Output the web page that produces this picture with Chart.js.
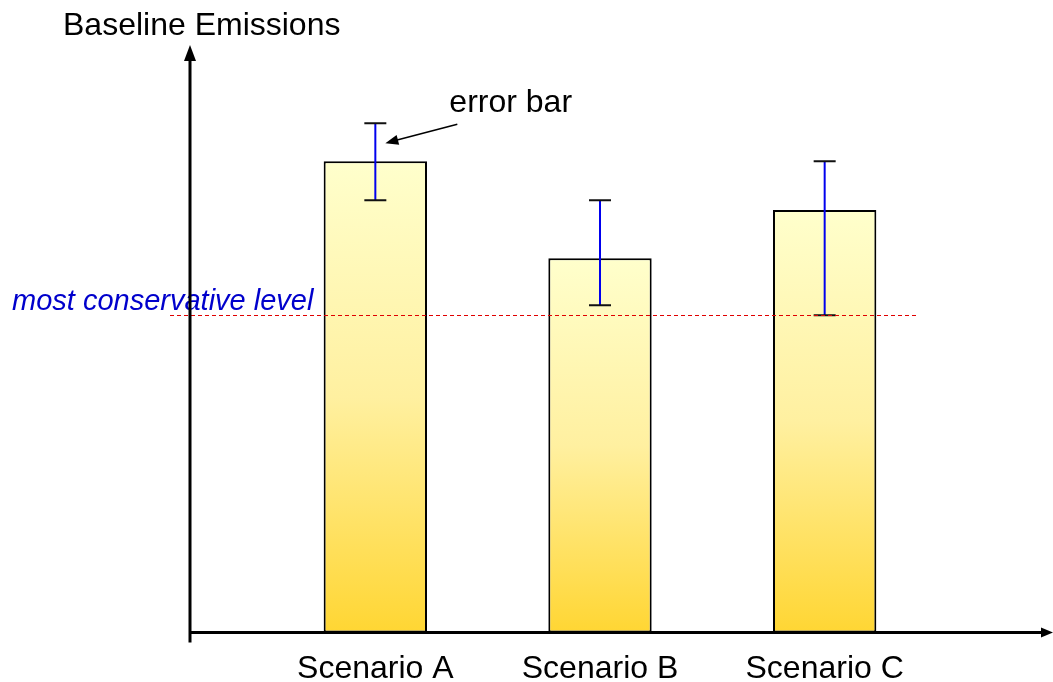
<!DOCTYPE html>
<html>
<head>
<meta charset="utf-8">
<script src="https://cdn.jsdelivr.net/npm/chart.js@4.4.1/dist/chart.umd.min.js"></script>
<style>
    html, body { margin: 0; padding: 0; background: #fff; }
</style>
</head>
<body>
<canvas id="chart" width="1053" height="682"></canvas>
<script>
// chart values (arbitrary units 0-100)
const categories = ["Scenario A", "Scenario B", "Scenario C"];
const emissions = [80.2, 63.7, 71.9];
const errorLow = [73.6, 55.7, 54.0];
const errorHigh = [86.7, 73.6, 80.2];
const conservativeLevel = 54.0;
const yRange = [0, 100];

const FONT = '"Liberation Sans", Arial, sans-serif';

// draw a filled arrowhead with its tip at (x, y), pointing along angle
function arrowHead(ctx, x, y, angle, len, half) {
    ctx.save();
    ctx.translate(x, y);
    ctx.rotate(angle);
    ctx.beginPath();
    ctx.moveTo(0, 0);
    ctx.lineTo(-len, -half);
    ctx.lineTo(-len, half);
    ctx.closePath();
    ctx.fill();
    ctx.restore();
}

const decorations = {
    id: "decorations",
    afterDatasetsDraw(chart) {
        const { ctx, chartArea: a, scales: { y } } = chart;
        const meta = chart.getDatasetMeta(0);
        const axisX = a.left - 73;

        ctx.save();

        // error bars
        meta.data.forEach((bar, i) => {
            const yl = y.getPixelForValue(errorLow[i]);
            const yh = y.getPixelForValue(errorHigh[i]);
            ctx.strokeStyle = "#0000EE";
            ctx.lineWidth = 2;
            ctx.beginPath();
            ctx.moveTo(bar.x, yl);
            ctx.lineTo(bar.x, yh);
            ctx.stroke();
            ctx.strokeStyle = "#111";
            ctx.beginPath();
            ctx.moveTo(bar.x - 11, yl);
            ctx.lineTo(bar.x + 11, yl);
            ctx.moveTo(bar.x - 11, yh);
            ctx.lineTo(bar.x + 11, yh);
            ctx.stroke();
        });

        // most conservative level (dashed)
        const ly = Math.round(y.getPixelForValue(conservativeLevel)) + 0.5;
        ctx.strokeStyle = "#E00000";
        ctx.lineWidth = 1;
        ctx.setLineDash([4, 3]);
        ctx.beginPath();
        ctx.moveTo(axisX - 20, ly);
        ctx.lineTo(a.right - 19, ly);
        ctx.stroke();
        ctx.setLineDash([]);

        ctx.fillStyle = "#0000CC";
        ctx.font = "italic 29px " + FONT;
        ctx.textBaseline = "alphabetic";
        ctx.textAlign = "left";
        ctx.fillText("most conservative level", 12, ly - 6);

        // axes with arrows
        ctx.strokeStyle = "#000";
        ctx.fillStyle = "#000";
        ctx.lineWidth = 3;
        ctx.beginPath();
        ctx.moveTo(axisX, a.bottom + 10);
        ctx.lineTo(axisX, a.top + 14);
        ctx.moveTo(axisX - 1.5, a.bottom);
        ctx.lineTo(a.right + 104, a.bottom);
        ctx.stroke();
        arrowHead(ctx, axisX, a.top, -Math.PI / 2, 16, 6);
        arrowHead(ctx, a.right + 116, a.bottom, 0, 12, 5);

        // y axis title
        ctx.font = "32px " + FONT;
        ctx.fillText("Baseline Emissions", axisX - 127, 35);

        // error bar annotation
        const first = meta.data[0];
        const tipX = first.x + 10, tipY = y.getPixelForValue(errorHigh[0]) + 20;
        const tailX = tipX + 72, tailY = tipY - 19;
        ctx.lineWidth = 1.5;
        ctx.beginPath();
        ctx.moveTo(tailX, tailY);
        ctx.lineTo(tipX + 6, tipY - 1.6);
        ctx.stroke();
        arrowHead(ctx, tipX, tipY, Math.atan2(tipY - tailY, tipX - tailX), 13, 5);
        ctx.fillText("error bar", tailX - 8, 112);

        ctx.restore();
    }
};

new Chart(document.getElementById("chart"), {
    type: "bar",
    data: {
        labels: categories,
        datasets: [{
            data: emissions,
            borderColor: "#000",
            borderWidth: 2,
            borderSkipped: false,
            barPercentage: 1,
            categoryPercentage: 0.46,
            backgroundColor: (c) => {
                const chart = c.chart;
                const area = chart.chartArea;
                if (!area || c.type !== "data") return "#FFEB80";
                const top = chart.scales.y.getPixelForValue(c.raw);
                const g = chart.ctx.createLinearGradient(0, top, 0, area.bottom);
                g.addColorStop(0, "#FFFFCC");
                g.addColorStop(0.5, "#FFF0A0");
                g.addColorStop(1, "#FFD633");
                return g;
            }
        }]
    },
    options: {
        responsive: false,
        animation: false,
        layout: { padding: { left: 263, right: 116, top: 45, bottom: -23 } },
        plugins: { legend: { display: false }, tooltip: { enabled: false } },
        scales: {
            y: { display: false, min: yRange[0], max: yRange[1] },
            x: {
                grid: { display: false, drawTicks: false },
                border: { display: false },
                ticks: { color: "#000", padding: 17, font: { family: FONT, size: 32 } }
            }
        }
    },
    plugins: [decorations]
});
</script>
</body>
</html>
